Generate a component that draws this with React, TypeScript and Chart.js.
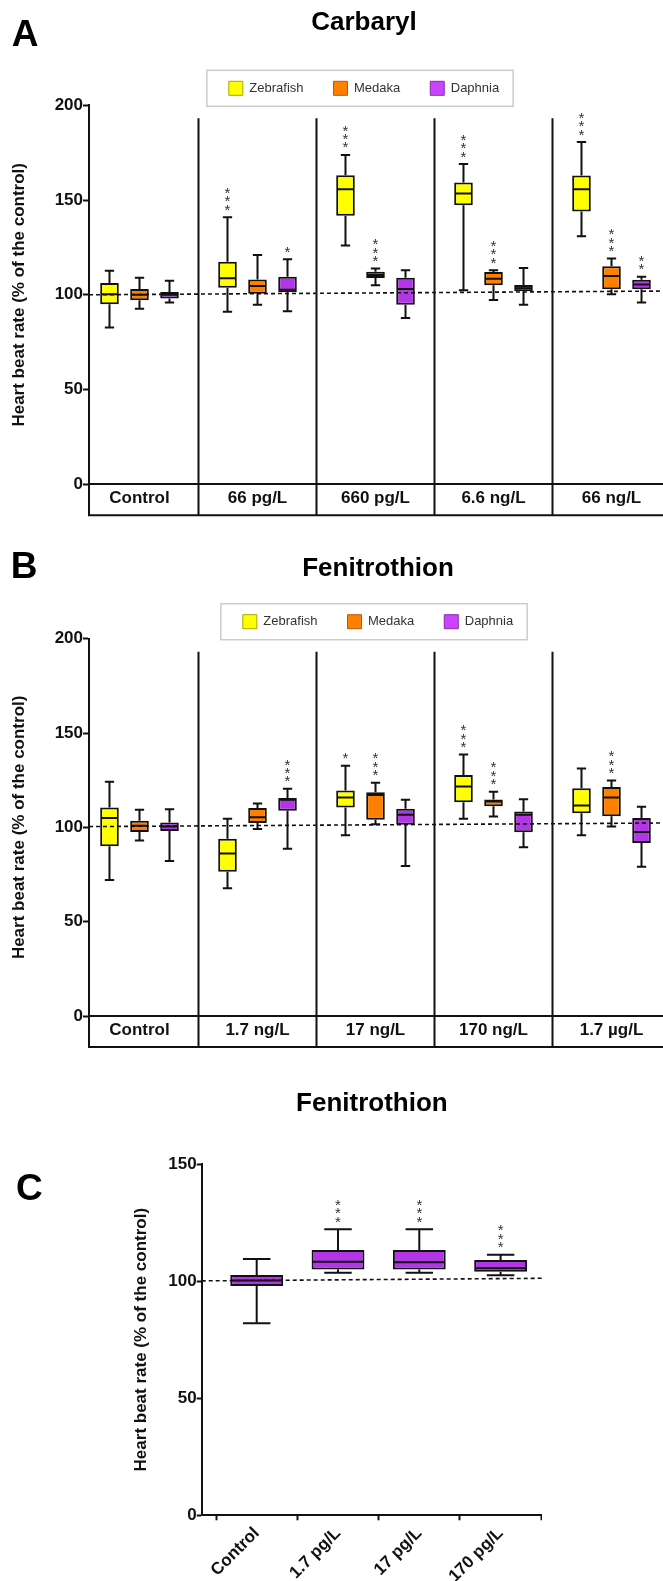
import React, { useEffect, useRef } from "react";
import { Chart, registerables } from "chart.js";

Chart.register(...registerables);

const FONT_FAMILY = "'Liberation Sans', Arial, Helvetica, sans-serif";
Chart.defaults.font.family = FONT_FAMILY;
Chart.defaults.color = "#111";

// ---------------- shared ----------------
const speciesNames = ["Zebrafish", "Medaka", "Daphnia"];
const yTicksAB = [0, 50, 100, 150, 200];
const yTicksC = [0, 50, 100, 150];
const yAxisTitle = "Heart beat rate (% of the control)";

// ---------------- Panel A: Carbaryl ----------------
const carbarylCategories = ["Control", "66 pg/L", "660 pg/L", "6.6 ng/L", "66 ng/L"];
// each row: [min, Q1, median, Q3, max]
const carbarylZebrafish = [
  [82.7, 95.0, 100.3, 106.2, 112.7],
  [91.1, 103.7, 108.7, 117.4, 140.9],
  [126.0, 141.7, 155.7, 163.1, 173.8],
  [102.4, 147.3, 153.5, 159.2, 169.0],
  [130.9, 144.0, 155.7, 162.9, 180.6],
];
const carbarylMedaka = [
  [92.6, 97.1, 100.0, 103.0, 109.0],
  [94.7, 100.6, 104.6, 108.1, 121.0],
  [105.0, 108.8, 110.4, 112.2, 113.9],
  [97.3, 105.0, 108.5, 112.0, 113.0],
  [100.3, 102.9, 109.9, 115.1, 119.2],
];
const carbarylDaphnia = [
  [95.9, 98.0, 100.0, 101.5, 107.4],
  [91.3, 101.3, 102.7, 109.5, 118.8],
  [87.8, 94.7, 103.0, 109.0, 113.0],
  [94.7, 101.9, 103.4, 105.2, 114.2],
  [95.9, 102.9, 105.5, 107.9, 109.5],
];
const carbarylZebrafishStars = ["", "***", "***", "***", "***"];
const carbarylMedakaStars = ["", "", "***", "***", "***"];
const carbarylDaphniaStars = ["", "*", "", "", "**"];
const carbarylControlLine = [100.0, 102.2];

// ---------------- Panel B: Fenitrothion (3 species) ----------------
const fenitrothionCategories = ["Control", "1.7 ng/L", "17 ng/L", "170 ng/L", "1.7 \u00b5g/L"];
const fenitrothionZebrafish = [
  [72.1, 90.0, 104.9, 110.5, 124.2],
  [67.7, 76.5, 86.1, 94.0, 104.6],
  [95.8, 110.5, 115.8, 119.5, 132.6],
  [104.6, 113.3, 121.6, 127.7, 138.6],
  [95.8, 107.5, 111.6, 120.7, 131.2],
];
const fenitrothionMedaka = [
  [93.0, 97.5, 100.9, 103.5, 109.3],
  [99.1, 102.3, 105.4, 110.2, 112.6],
  [101.7, 104.0, 117.2, 118.6, 123.7],
  [105.8, 111.2, 113.7, 114.7, 118.9],
  [100.4, 105.9, 115.8, 121.4, 124.9],
];
const fenitrothionDaphnia = [
  [82.1, 98.0, 100.4, 102.6, 109.6],
  [88.6, 108.8, 114.6, 115.6, 120.4],
  [79.5, 101.4, 106.7, 109.8, 114.6],
  [89.5, 97.4, 106.7, 108.4, 114.9],
  [79.1, 91.7, 97.5, 104.9, 110.9],
];
const fenitrothionZebrafishStars = ["", "", "*", "***", ""];
const fenitrothionMedakaStars = ["", "", "***", "***", "***"];
const fenitrothionDaphniaStars = ["", "***", "", "", ""];
const fenitrothionControlLine = [100.4, 102.6];

// ---------------- Panel C: Fenitrothion (Daphnia) ----------------
const daphniaCategories = ["Control", "1.7 pg/L", "17 pg/L", "170 pg/L"];
const daphniaFenitrothion = [
  [82.0, 97.9, 100.3, 102.6, 109.4],
  [103.6, 105.0, 108.3, 113.3, 122.1],
  [103.6, 105.0, 108.0, 113.3, 122.1],
  [102.5, 104.0, 105.5, 109.0, 111.3],
];
const daphniaStars = ["", "***", "***", "***"];
const daphniaControlLine = [100.1, 101.2];

// ---------------- styles ----------------
const BOX_FILL = ["#FFFF00", "#FF8000", "#B236E6"];
const LEGEND_FILL = ["#FFFF00", "#FF8000", "#C844FF"];
const LEGEND_STROKE = ["#A8A800", "#B85A00", "#8A2AB0"];
const INK = "#111";

const boxPlotDecor: any = {
  id: "boxPlotDecor",
  afterDatasetsDraw(chart: any, _args: any, opts: any) {
    const ctx = chart.ctx;
    const yScale = chart.scales.y;
    ctx.save();
    ctx.strokeStyle = INK;
    ctx.lineWidth = 2;
    chart.data.datasets.forEach((ds: any, di: number) => {
      if (!ds.stats) return;
      const meta = chart.getDatasetMeta(di);
      meta.data.forEach((el: any, i: number) => {
        const s = ds.stats[i];
        const x = el.x;
        const w = el.width;
        const [mn, q1, md, q3, mx] = s.map((v: number) => yScale.getPixelForValue(v));
        const cap = (w * opts.capRatio) / 2;
        ctx.beginPath();
        ctx.moveTo(x, q3);
        ctx.lineTo(x, mx);
        ctx.moveTo(x - cap, mx);
        ctx.lineTo(x + cap, mx);
        ctx.moveTo(x, q1);
        ctx.lineTo(x, mn);
        ctx.moveTo(x - cap, mn);
        ctx.lineTo(x + cap, mn);
        ctx.moveTo(x - w / 2 + 1, md);
        ctx.lineTo(x + w / 2 - 1, md);
        ctx.stroke();
        const st = ds.stars ? ds.stars[i] : "";
        if (st) {
          ctx.fillStyle = "#333";
          ctx.font = `${opts.starSize}px ${FONT_FAMILY}`;
          ctx.textAlign = "center";
          ctx.textBaseline = "alphabetic";
          for (let k = 0; k < st.length; k++) {
            const cy = mx - opts.starGap - k * opts.starStep;
            ctx.fillText("*", x, cy + opts.starSize * 0.57);
          }
        }
      });
    });
    ctx.restore();
  },
  afterDraw(chart: any, _args: any, opts: any) {
    const ctx = chart.ctx;
    const area = chart.chartArea;
    const xs = chart.scales.x;
    ctx.save();
    ctx.strokeStyle = INK;
    ctx.lineWidth = 2;
    if (opts.rowHeight) {
      const yb = area.bottom + opts.rowHeight;
      ctx.beginPath();
      ctx.moveTo(area.left, area.bottom);
      ctx.lineTo(area.left, yb + 1);
      ctx.moveTo(area.left - 1, yb);
      ctx.lineTo(chart.width, yb);
      for (let i = 0; i < opts.groups; i++) {
        const px = xs.getPixelForValue(i + 0.5);
        ctx.moveTo(px, area.top + opts.dividerTop);
        ctx.lineTo(px, yb);
      }
      ctx.stroke();
    }
    const legend = chart.legend;
    if (opts.legendFrame && legend && legend.legendHitBoxes && legend.legendHitBoxes.length) {
      const hb = legend.legendHitBoxes;
      const first = hb[0];
      const last = hb[hb.length - 1];
      const cy = first.top + first.height / 2;
      const left = first.left - 22;
      const right = last.left + last.width + 14;
      ctx.strokeStyle = "#cccccc";
      ctx.lineWidth = 1.5;
      ctx.strokeRect(left, cy - 18, right - left, 36);
    }
    ctx.restore();
  },
};

const PLOT_LEFT = 89;
const GROUP_UNIT = 118;
const FIRST_GROUP_CENTER = 139.5;

function groupedConfig(p: any): any {
  const xMin = -(FIRST_GROUP_CENTER - PLOT_LEFT) / GROUP_UNIT;
  const xMax = xMin + (p.width - PLOT_LEFT) / GROUP_UNIT;
  const cats: string[] = p.categories;
  return {
    type: "bar",
    data: {
      datasets: [
        ...speciesNames.map((name, k) => ({
          type: "bar",
          label: name,
          data: p.stats[k].map((s: number[], i: number) => ({ x: i, y: [s[1], s[3]] })),
          stats: p.stats[k],
          stars: p.stars[k],
          backgroundColor: BOX_FILL[k],
          borderColor: INK,
          borderWidth: 2,
          borderSkipped: false,
          barPercentage: 0.62,
          categoryPercentage: 0.763,
          order: 2,
        })),
        {
          type: "line",
          label: "control mean",
          data: [
            { x: xMin, y: p.controlLine[0] },
            { x: xMax, y: p.controlLine[1] },
          ],
          borderColor: INK,
          borderWidth: 1.6,
          borderDash: [4, 3],
          pointRadius: 0,
          fill: false,
          order: 0,
        },
      ],
    },
    options: {
      responsive: false,
      animation: false,
      events: [],
      layout: { padding: { left: 0, right: 0, top: 0, bottom: p.padBottom } },
      plugins: {
        title: {
          display: true,
          text: p.title,
          color: "#000",
          font: { size: 26, weight: "bold" },
          padding: { top: p.titleTop, bottom: p.titleBottom },
        },
        legend: {
          display: true,
          labels: {
            boxWidth: 14,
            boxHeight: 14,
            padding: 30,
            color: "#333",
            font: { size: 13 },
            generateLabels: () =>
              speciesNames.map((name, k) => ({
                text: name,
                fillStyle: LEGEND_FILL[k],
                strokeStyle: LEGEND_STROKE[k],
                lineWidth: 1,
                hidden: false,
                datasetIndex: k,
                fontColor: "#333",
              })),
          },
        },
        tooltip: { enabled: false },
        boxPlotDecor: {
          capRatio: 0.5,
          starSize: 15,
          starGap: 11,
          starStep: 8.4,
          rowHeight: 31,
          dividerTop: 13,
          groups: cats.length,
          legendFrame: true,
        },
      },
      scales: {
        x: {
          type: "linear",
          min: xMin,
          max: xMax,
          offset: false,
          grid: { display: false, drawTicks: false },
          border: { display: true, color: INK, width: 2 },
          afterBuildTicks: (scale: any) => {
            scale.ticks = cats.map((_c, i) => ({ value: i }));
          },
          afterFit: (scale: any) => {
            scale.height = 31;
          },
          ticks: {
            autoSkip: false,
            maxRotation: 0,
            minRotation: 0,
            padding: 4.3,
            color: INK,
            font: { size: 17, weight: "bold" },
            callback: (_v: any, i: number) => cats[i],
          },
        },
        y: {
          min: 0,
          max: 200,
          afterBuildTicks: (scale: any) => {
            scale.ticks = yTicksAB.map((v) => ({ value: v }));
          },
          afterFit: (scale: any) => {
            scale.width = PLOT_LEFT;
          },
          ticks: { padding: 0, color: INK, font: { size: 17, weight: "bold" } },
          grid: {
            display: true,
            drawOnChartArea: false,
            drawTicks: true,
            tickLength: 6,
            tickWidth: 2,
            tickColor: INK,
            color: INK,
          },
          border: { display: true, color: INK, width: 2 },
          title: {
            display: true,
            text: yAxisTitle,
            color: INK,
            font: { size: 17, weight: "bold" },
            padding: { top: 9.3, bottom: 0 },
          },
        },
      },
    },
    plugins: [boxPlotDecor],
  };
}

const C_LEFT = 201.7;
const C_UNIT = 81.3;
const C_FIRST = 256.7;

function daphniaConfig(width: number): any {
  const xMin = -(C_FIRST - C_LEFT) / C_UNIT;
  const xMax = xMin + (width - C_LEFT) / C_UNIT;
  return {
    type: "bar",
    data: {
      datasets: [
        {
          type: "bar",
          label: "Daphnia",
          data: daphniaFenitrothion.map((s, i) => ({ x: i, y: [s[1], s[3]] })),
          stats: daphniaFenitrothion,
          stars: daphniaStars,
          backgroundColor: BOX_FILL[2],
          borderColor: INK,
          borderWidth: 2,
          borderSkipped: false,
          barPercentage: 0.65,
          categoryPercentage: 1,
          order: 2,
        },
        {
          type: "line",
          label: "control mean",
          data: [
            { x: xMin, y: daphniaControlLine[0] },
            { x: xMax, y: daphniaControlLine[1] },
          ],
          borderColor: INK,
          borderWidth: 1.6,
          borderDash: [4, 3],
          pointRadius: 0,
          fill: false,
          order: 0,
        },
      ],
    },
    options: {
      responsive: false,
      animation: false,
      events: [],
      layout: { padding: { left: 0, right: 0, top: 0, bottom: 0 } },
      plugins: {
        title: {
          display: true,
          fullSize: false,
          text: "Fenitrothion",
          color: "#000",
          font: { size: 26, weight: "bold" },
          padding: { top: 28.4, bottom: 44.4 },
        },
        legend: { display: false },
        tooltip: { enabled: false },
        boxPlotDecor: {
          capRatio: 0.52,
          starSize: 15,
          starGap: 11,
          starStep: 8.4,
          rowHeight: 0,
          legendFrame: false,
        },
      },
      scales: {
        x: {
          type: "linear",
          min: xMin,
          max: xMax,
          offset: false,
          grid: {
            display: true,
            drawOnChartArea: false,
            drawTicks: true,
            tickLength: 5,
            tickWidth: 2,
            tickColor: INK,
            color: INK,
          },
          border: { display: true, color: INK, width: 2 },
          afterBuildTicks: (scale: any) => {
            scale.ticks = daphniaCategories.map((_c, i) => ({ value: i }));
          },
          afterFit: (scale: any) => {
            scale.height = 65.7;
          },
          ticks: {
            autoSkip: false,
            maxRotation: 45,
            minRotation: 45,
            padding: 3,
            color: INK,
            font: { size: 17, weight: "bold" },
            callback: (_v: any, i: number) => daphniaCategories[i],
          },
        },
        y: {
          min: 0,
          max: 150,
          afterBuildTicks: (scale: any) => {
            scale.ticks = yTicksC.map((v) => ({ value: v }));
          },
          afterFit: (scale: any) => {
            scale.width = C_LEFT;
          },
          ticks: { padding: 0, color: INK, font: { size: 17, weight: "bold" } },
          grid: {
            display: true,
            drawOnChartArea: false,
            drawTicks: true,
            tickLength: 5,
            tickWidth: 2,
            tickColor: INK,
            color: INK,
          },
          border: { display: true, color: INK, width: 2 },
          title: {
            display: true,
            text: yAxisTitle,
            color: INK,
            font: { size: 17, weight: "bold" },
            padding: { top: 130.8, bottom: 0 },
          },
        },
      },
    },
    plugins: [boxPlotDecor],
  };
}

const A_W = 728;
const A_H = 529;
const B_TOP = 529;
const B_W = 756;
const B_H = 531;
const C_TOP = 1060;
const C_W = 542;
const C_H = 521;

function letterStyle(left: number, top: number): React.CSSProperties {
  return {
    position: "absolute",
    left,
    top,
    margin: 0,
    font: `bold 37px ${FONT_FAMILY}`,
    lineHeight: "37px",
    color: "#000",
  };
}

export default function App() {
  const refA = useRef<HTMLCanvasElement>(null);
  const refB = useRef<HTMLCanvasElement>(null);
  const refC = useRef<HTMLCanvasElement>(null);

  useEffect(() => {
    const charts: Chart[] = [];
    if (refA.current) {
      charts.push(
        new Chart(
          refA.current,
          groupedConfig({
            width: A_W,
            title: "Carbaryl",
            titleTop: 6.9,
            titleBottom: 13.2,
            padBottom: 13.7,
            categories: carbarylCategories,
            stats: [carbarylZebrafish, carbarylMedaka, carbarylDaphnia],
            stars: [carbarylZebrafishStars, carbarylMedakaStars, carbarylDaphniaStars],
            controlLine: carbarylControlLine,
          })
        )
      );
    }
    if (refB.current) {
      charts.push(
        new Chart(
          refB.current,
          groupedConfig({
            width: B_W,
            title: "Fenitrothion",
            titleTop: 24.5,
            titleBottom: 0,
            padBottom: 13,
            categories: fenitrothionCategories,
            stats: [fenitrothionZebrafish, fenitrothionMedaka, fenitrothionDaphnia],
            stars: [fenitrothionZebrafishStars, fenitrothionMedakaStars, fenitrothionDaphniaStars],
            controlLine: fenitrothionControlLine,
          })
        )
      );
    }
    if (refC.current) {
      charts.push(new Chart(refC.current, daphniaConfig(C_W)));
    }
    return () => charts.forEach((c) => c.destroy());
  }, []);

  return (
    <div
      style={{
        position: "absolute",
        left: 0,
        top: 0,
        width: 663,
        height: 1581,
        overflow: "hidden",
        background: "#fff",
      }}
    >
      <canvas ref={refA} width={A_W} height={A_H} style={{ position: "absolute", left: 0, top: 0 }} />
      <canvas ref={refB} width={B_W} height={B_H} style={{ position: "absolute", left: 0, top: B_TOP }} />
      <canvas ref={refC} width={C_W} height={C_H} style={{ position: "absolute", left: 0, top: C_TOP }} />
      <div style={letterStyle(11.7, 15.4)}>A</div>
      <div style={letterStyle(10.7, 547)}>B</div>
      <div style={letterStyle(16, 1169)}>C</div>
    </div>
  );
}
